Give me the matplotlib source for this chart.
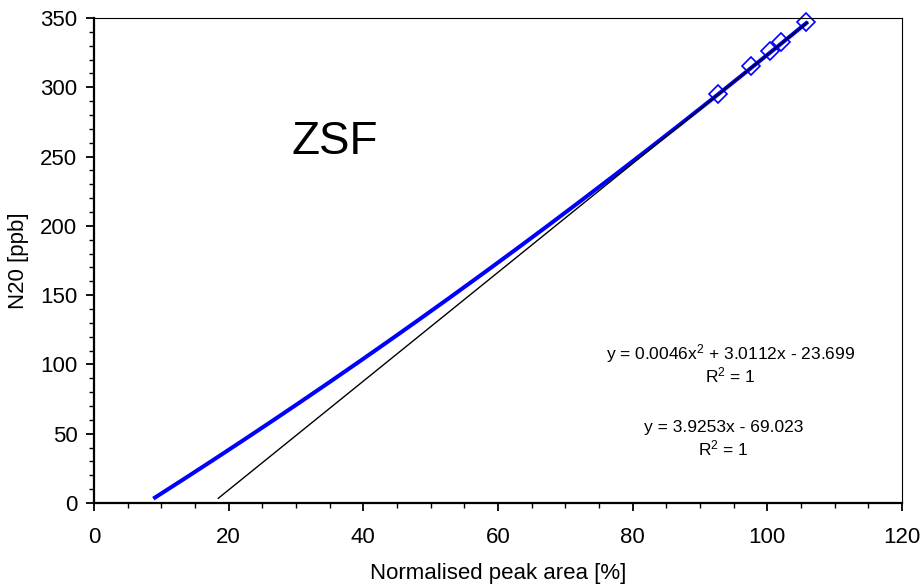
import matplotlib
matplotlib.use("Agg")
import matplotlib.pyplot as plt
import numpy as np

plt.rcParams['font.family'] = ['Liberation Sans', 'DejaVu Sans']
plt.rcParams['mathtext.fontset'] = 'custom'
plt.rcParams['mathtext.rm'] = 'Liberation Sans'
plt.rcParams['mathtext.default'] = 'regular'

# calibration points (normalised peak area [%], N2O [ppb])
peak_area = [92.7, 97.6, 100.4, 102.0, 105.8]
n2o_ppb = [295.5, 315.0, 326.5, 332.5, 347.0]

# trendline coefficients as printed on the chart
poly_coef = [0.0046, 3.0112, -23.699]
lin_coef = [3.9253, -69.023]
poly_range = (8.8, 106.0)
lin_range = (18.45, 106.0)

eq_poly = "y = 0.0046x$^{2}$ + 3.0112x - 23.699"
eq_lin = "y = 3.9253x - 69.023"
r2_text = "R$^{2}$ = 1"

fig = plt.figure(figsize=(9.21, 5.86), dpi=100)
ax = fig.add_axes([0.1021, 0.1416, 0.8773, 0.8277])

xp = np.linspace(poly_range[0], poly_range[1], 200)
ax.plot(xp, np.polyval(poly_coef, xp), color='#0000ff', lw=2.9, zorder=3,
        solid_capstyle='butt')
xl = np.array(lin_range)
ax.plot(xl, np.polyval(lin_coef, xl), color='black', lw=1.0, zorder=4)
ax.plot(peak_area, n2o_ppb, ls='none', marker='D', ms=9.5, mfc='none',
        mec='#0000ff', mew=1.2, zorder=2, clip_on=False)

ax.set_xlim(0, 120)
ax.set_ylim(0, 350)
ax.set_xticks(np.arange(0, 121, 20))
ax.set_xticks(np.arange(0, 121, 5), minor=True)
ax.set_yticks(np.arange(0, 351, 50))
ax.set_yticks(np.arange(0, 351, 10), minor=True)

ax.tick_params(axis='x', which='major', direction='out', length=6, width=1.3,
               labelsize=16, pad=11)
ax.tick_params(axis='y', which='major', direction='out', length=6, width=1.3,
               labelsize=16, pad=6)
ax.tick_params(which='minor', direction='out', length=3.6, width=1.0)

for s in ['left', 'bottom']:
    ax.spines[s].set_linewidth(1.6)
for s in ['top', 'right']:
    ax.spines[s].set_linewidth(0.8)

ax.set_xlabel('Normalised peak area [%]', fontsize=16, labelpad=11)
ax.set_ylabel('N20 [ppb]', fontsize=16, labelpad=8)

ax.text(35.8, 260.5, 'ZSF', fontsize=33, ha='center', va='center')
ax.text(94.5, 108.2, eq_poly, fontsize=12.5, ha='center', va='center')
ax.text(94.5, 92.4, r2_text, fontsize=12.5, ha='center', va='center')
ax.text(93.5, 54.8, eq_lin, fontsize=12.5, ha='center', va='center')
ax.text(93.5, 39.2, r2_text, fontsize=12.5, ha='center', va='center')

fig.savefig('out.png', dpi=100)
